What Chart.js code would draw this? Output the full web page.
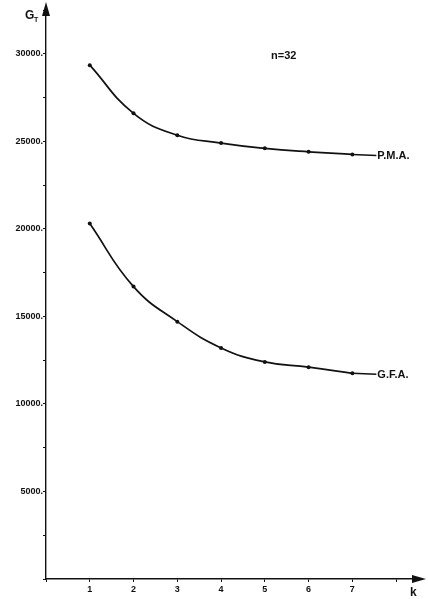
<!DOCTYPE html>
<html>
<head>
<meta charset="utf-8">
<script src="https://cdn.jsdelivr.net/npm/chart.js@4"></script>
<style>
  html, body { margin: 0; padding: 0; background: #fff; }
  #wrap { width: 428px; height: 599px; position: relative; }
</style>
</head>
<body>
<div id="wrap"><canvas id="canvas"></canvas></div>
<script>
// values
const kValues = [1, 2, 3, 4, 5, 6, 7];
const pmaValues = [29350, 26600, 25350, 24900, 24600, 24400, 24250];
const gfaValues = [20300, 16700, 14700, 13200, 12400, 12100, 11750];
const seriesNames = ["P.M.A.", "G.F.A."];
const yLabelStep = 5000;

const ink = "#111";
const font = "'Liberation Sans', Arial, sans-serif";

const decorations = {
  id: "decorations",
  afterDatasetsDraw(chart) {
    const ctx = chart.ctx;
    const a = chart.chartArea;
    ctx.save();
    ctx.strokeStyle = ink;
    ctx.fillStyle = ink;
    ctx.lineWidth = 1.4;

    // arrow heads on both axes
    ctx.beginPath();
    ctx.moveTo(a.left, a.top - 8);
    ctx.lineTo(a.left - 4, a.top + 6);
    ctx.lineTo(a.left + 4, a.top + 6);
    ctx.closePath();
    ctx.fill();
    ctx.beginPath();
    ctx.moveTo(a.right + 8, a.bottom);
    ctx.lineTo(a.right - 6, a.bottom - 4);
    ctx.lineTo(a.right - 6, a.bottom + 4);
    ctx.closePath();
    ctx.fill();

    // series end lines and names
    ctx.font = "bold 11px " + font;
    ctx.textBaseline = "middle";
    chart.data.datasets.forEach((ds, i) => {
      const pts = chart.getDatasetMeta(i).data;
      const p = pts[pts.length - 1];
      const x2 = p.x + 24;
      const y2 = p.y + 1;
      ctx.beginPath();
      ctx.moveTo(p.x, p.y);
      ctx.lineTo(x2, y2);
      ctx.stroke();
      ctx.fillText(seriesNames[i], x2 + 1, y2 + 1);
    });

    // axis names and annotation
    ctx.font = "bold 12px " + font;
    ctx.textBaseline = "alphabetic";
    ctx.fillText("G", 25, 19);
    ctx.font = "bold 7px " + font;
    ctx.fillText("T", 34, 22);
    ctx.font = "bold 12px " + font;
    ctx.fillText("k", 410, 596);
    ctx.font = "bold 11px " + font;
    ctx.fillText("n=32", 271, 59);
    ctx.restore();
  }
};

new Chart(document.getElementById("canvas").getContext("2d"), {
  type: "line",
  data: {
    datasets: [
      {
        label: seriesNames[0],
        data: kValues.map((k, i) => ({ x: k, y: pmaValues[i] })),
      },
      {
        label: seriesNames[1],
        data: kValues.map((k, i) => ({ x: k, y: gfaValues[i] })),
      },
    ].map((d) => Object.assign(d, {
      borderColor: ink,
      backgroundColor: ink,
      borderWidth: 1.7,
      pointRadius: 2,
      pointBorderWidth: 0,
      tension: 0.45,
      fill: false,
    })),
  },
  options: {
    responsive: true,
    maintainAspectRatio: false,
    animation: false,
    layout: { padding: { top: 10, right: 10, left: 0, bottom: 0 } },
    plugins: {
      legend: { display: false },
      tooltip: { enabled: false },
    },
    scales: {
      x: {
        type: "linear",
        min: 0,
        max: 8.5,
        afterFit: (s) => { s.height = 20; },
        border: { color: ink, width: 1.4 },
        grid: { display: true, drawOnChartArea: false, color: ink, tickLength: 3 },
        ticks: {
          stepSize: 1,
          includeBounds: false,
          color: ink,
          padding: 2,
          font: { family: font, size: 9, weight: "bold" },
          callback: (v) => (v >= 1 && v <= 7 ? String(v) : ""),
        },
      },
      y: {
        min: 0,
        max: 32500,
        afterFit: (s) => { s.width = 46; },
        border: { color: ink, width: 1.4 },
        grid: { display: true, drawOnChartArea: false, color: ink, tickLength: 3 },
        ticks: {
          stepSize: 2500,
          includeBounds: false,
          color: ink,
          padding: 0,
          font: { family: font, size: 9, weight: "bold" },
          callback: (v) => (v > 0 && v % yLabelStep === 0 ? v + "." : ""),
        },
      },
    },
  },
  plugins: [decorations],
});
</script>
</body>
</html>
